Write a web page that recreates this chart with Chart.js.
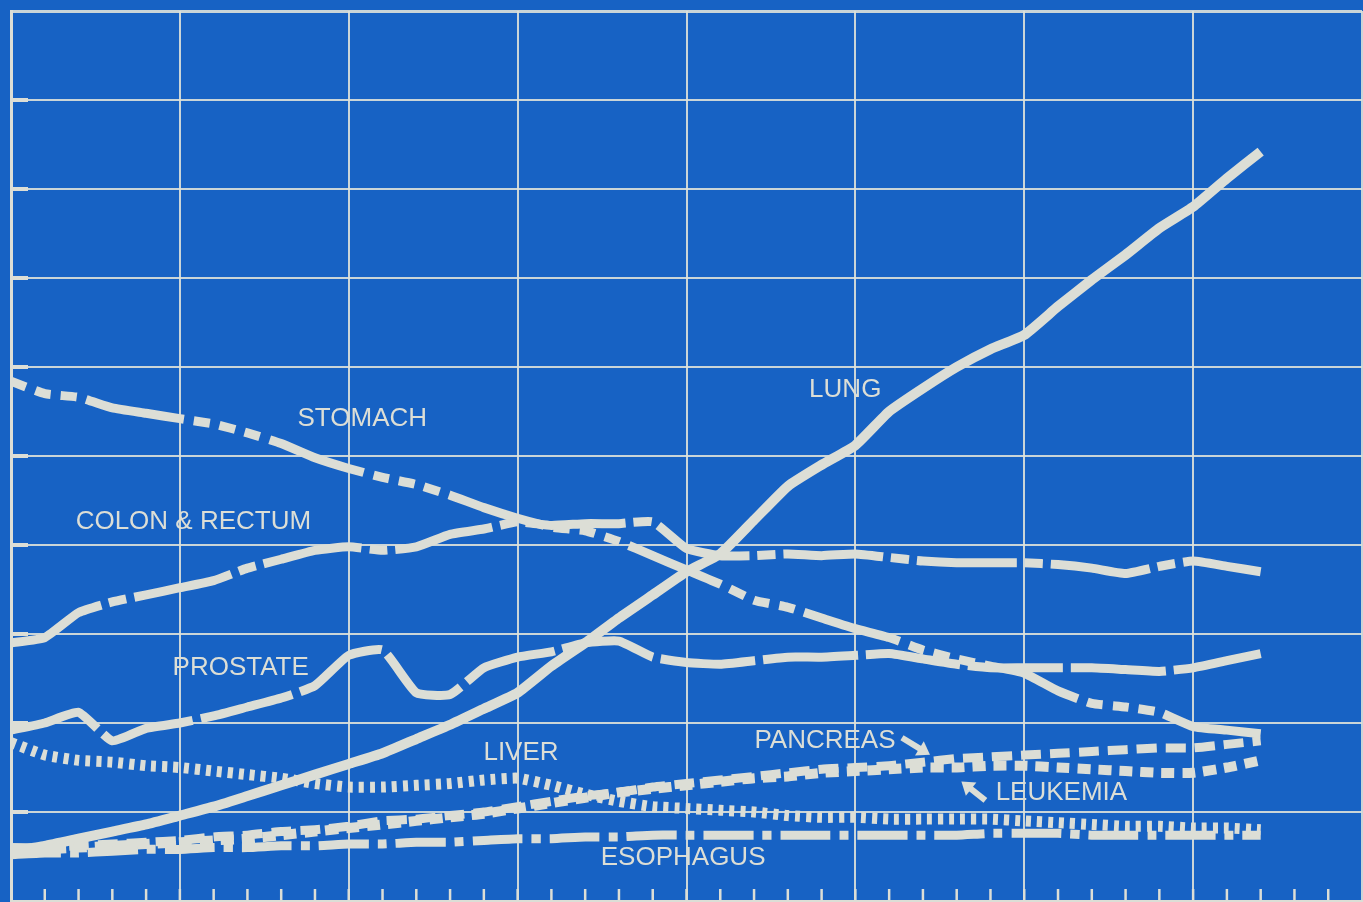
<!DOCTYPE html>
<html lang="en">
<head>
    <meta charset="UTF-8">
    <title>Cancer Death Rates by Site - Males</title>
    <script src="https://cdnjs.cloudflare.com/ajax/libs/Chart.js/4.4.0/chart.umd.min.js"></script>
    <style>
        html, body { margin: 0; padding: 0; background: #1762c4; }
        .chart-box { position: relative; width: 1363px; height: 902px; }
    </style>
</head>
<body>
    <div class="chart-box">
        <canvas id="siteChart"></canvas>
    </div>

    <script>
        // years along the x axis
        const years = [1930, 1931, 1932, 1933, 1934, 1935, 1936, 1937, 1938, 1939,
                       1940, 1941, 1942, 1943, 1944, 1945, 1946, 1947, 1948, 1949,
                       1950, 1951, 1952, 1953, 1954, 1955, 1956, 1957, 1958, 1959,
                       1960, 1961, 1962, 1963, 1964, 1965, 1966, 1967];

        // rates per 100,000
        const lung = [2.8, 3.1, 3.5, 3.9, 4.3, 4.8, 5.3, 5.9, 6.5, 7.1,
                      7.7, 8.3, 9.1, 9.9, 10.8, 11.7, 13.2, 14.5, 15.9, 17.2,
                      18.5, 19.5, 21.4, 23.3, 24.5, 25.6, 27.5, 28.8, 30.0, 31.0,
                      31.8, 33.4, 34.9, 36.3, 37.8, 39.0, 40.6, 42.1];
        const stomach = [29.2, 28.5, 28.3, 27.7, 27.4, 27.1, 26.8, 26.3, 25.7, 24.9,
                         24.3, 23.8, 23.4, 22.8, 22.1, 21.5, 21.0, 20.8, 20.2, 19.4,
                         18.6, 17.8, 16.9, 16.5, 15.9, 15.3, 14.8, 14.1, 13.6, 13.2,
                         12.8, 11.8, 11.1, 10.9, 10.6, 9.8, 9.6, 9.4];
        const colon = [14.5, 14.8, 16.2, 16.8, 17.2, 17.6, 18.0, 18.7, 19.2, 19.7,
                       19.9, 19.7, 19.9, 20.6, 20.9, 21.3, 21.1, 21.2, 21.2, 21.3,
                       19.8, 19.4, 19.4, 19.5, 19.4, 19.5, 19.3, 19.1, 19.0, 19.0,
                       19.0, 18.9, 18.7, 18.4, 18.8, 19.1, 18.8, 18.5];
        const prostate = [9.6, 10.0, 10.6, 9.0, 9.7, 10.0, 10.4, 10.9, 11.4, 12.1,
                          13.8, 14.1, 11.7, 11.6, 13.1, 13.7, 14.0, 14.5, 14.6, 13.7,
                          13.4, 13.3, 13.5, 13.7, 13.7, 13.8, 13.9, 13.6, 13.3, 13.1,
                          13.1, 13.1, 13.1, 13.0, 12.9, 13.1, 13.5, 13.9];
        const liver = [8.9, 8.2, 7.9, 7.8, 7.6, 7.5, 7.3, 7.1, 6.9, 6.6,
                       6.4, 6.4, 6.5, 6.6, 6.8, 6.9, 6.5, 6.0, 5.6, 5.3,
                       5.2, 5.1, 5.0, 4.8, 4.7, 4.7, 4.6, 4.6, 4.6, 4.6,
                       4.5, 4.4, 4.3, 4.2, 4.2, 4.1, 4.1, 4.0];
        const pancreas = [3.0, 3.0, 3.1, 3.2, 3.3, 3.4, 3.6, 3.7, 3.9, 4.0,
                          4.2, 4.5, 4.6, 4.8, 5.0, 5.3, 5.6, 5.9, 6.1, 6.4,
                          6.6, 6.8, 7.0, 7.2, 7.4, 7.5, 7.6, 7.8, 8.0, 8.1,
                          8.2, 8.3, 8.4, 8.5, 8.6, 8.6, 8.8, 9.0];
        const leukemia = [2.8, 2.9, 3.0, 3.1, 3.2, 3.3, 3.4, 3.5, 3.7, 3.9,
                          4.1, 4.3, 4.5, 4.7, 4.9, 5.2, 5.5, 5.8, 6.1, 6.3,
                          6.5, 6.7, 6.9, 7.0, 7.2, 7.3, 7.4, 7.5, 7.5, 7.6,
                          7.6, 7.5, 7.4, 7.3, 7.2, 7.2, 7.5, 7.9];
        const esophagus = [2.6, 2.7, 2.7, 2.8, 2.9, 2.9, 3.0, 3.0, 3.1, 3.1,
                           3.2, 3.2, 3.3, 3.3, 3.4, 3.5, 3.5, 3.6, 3.6, 3.7,
                           3.7, 3.7, 3.7, 3.7, 3.7, 3.7, 3.7, 3.7, 3.7, 3.8,
                           3.8, 3.8, 3.7, 3.7, 3.7, 3.7, 3.7, 3.7];

        const INK = '#dcded6';
        const GRID = 'rgba(222, 226, 218, 0.9)';
        const BG = '#1762c4';

        function toPoints(values) {
            return values.map((v, i) => ({ x: years[i], y: v }));
        }

        function series(label, values, width, dash) {
            return {
                label: label,
                data: toPoints(values),
                borderColor: INK,
                borderWidth: width,
                borderDash: dash,
                borderCapStyle: 'butt',
                borderJoinStyle: 'round',
                pointRadius: 0,
                tension: 0.15,
                fill: false
            };
        }

        // text labels placed in data units
        const siteLabels = [
            { text: 'STOMACH', x: 1940.4, y: 27.1 },
            { text: 'LUNG', x: 1954.7, y: 28.7 },
            { text: 'COLON & RECTUM', x: 1935.4, y: 21.3 },
            { text: 'PROSTATE', x: 1936.8, y: 13.1 },
            { text: 'LIVER', x: 1945.1, y: 8.3 },
            { text: 'PANCREAS', x: 1954.1, y: 9.0 },
            { text: 'LEUKEMIA', x: 1961.1, y: 6.1 },
            { text: 'ESOPHAGUS', x: 1949.9, y: 2.4 }
        ];

        function arrow(ctx, x1, y1, x2, y2) {
            const ang = Math.atan2(y2 - y1, x2 - x1);
            const head = 15;
            ctx.save();
            ctx.strokeStyle = INK;
            ctx.fillStyle = INK;
            ctx.lineWidth = 6;
            ctx.beginPath();
            ctx.moveTo(x1, y1);
            ctx.lineTo(x2 - Math.cos(ang) * head * 0.7, y2 - Math.sin(ang) * head * 0.7);
            ctx.stroke();
            ctx.beginPath();
            ctx.moveTo(x2, y2);
            ctx.lineTo(x2 - Math.cos(ang - 0.6) * head, y2 - Math.sin(ang - 0.6) * head);
            ctx.lineTo(x2 - Math.cos(ang + 0.6) * head, y2 - Math.sin(ang + 0.6) * head);
            ctx.closePath();
            ctx.fill();
            ctx.restore();
        }

        const blueprint = {
            id: 'blueprint',
            beforeDraw(chart) {
                const ctx = chart.ctx;
                ctx.save();
                ctx.fillStyle = BG;
                ctx.fillRect(0, 0, chart.width, chart.height);
                ctx.restore();
            },
            beforeDatasetsDraw(chart) {
                const ctx = chart.ctx;
                const xs = chart.scales.x;
                const ys = chart.scales.y;
                const area = chart.chartArea;
                ctx.save();
                ctx.strokeStyle = INK;
                // small year ticks standing on the bottom axis
                ctx.lineWidth = 2.5;
                for (let yr = 1931; yr < 1970; yr++) {
                    const px = xs.getPixelForValue(yr);
                    ctx.beginPath();
                    ctx.moveTo(px, area.bottom);
                    ctx.lineTo(px, area.bottom - 12);
                    ctx.stroke();
                }
                // short heavy stubs on the left edge
                ctx.lineWidth = 4;
                for (let v = 5; v < 50; v += 5) {
                    const py = ys.getPixelForValue(v);
                    ctx.beginPath();
                    ctx.moveTo(area.left, py);
                    ctx.lineTo(area.left + 17, py);
                    ctx.stroke();
                }
                ctx.restore();
            },
            afterDatasetsDraw(chart) {
                const ctx = chart.ctx;
                const xs = chart.scales.x;
                const ys = chart.scales.y;
                ctx.save();
                ctx.fillStyle = INK;
                ctx.font = '26px "Liberation Sans", Arial, sans-serif';
                ctx.textAlign = 'center';
                ctx.textBaseline = 'middle';
                siteLabels.forEach(l => {
                    ctx.fillText(l.text, xs.getPixelForValue(l.x), ys.getPixelForValue(l.y));
                });
                ctx.restore();
                // arrows next to PANCREAS and LEUKEMIA
                const pan = siteLabels[5], leu = siteLabels[6];
                const px = xs.getPixelForValue(pan.x), py = ys.getPixelForValue(pan.y);
                arrow(ctx, px + 77, py - 3, px + 105, py + 14);
                const lx = xs.getPixelForValue(leu.x), ly = ys.getPixelForValue(leu.y);
                arrow(ctx, lx - 76, ly + 8, lx - 100, ly - 11);
            }
        };

        const gridWidth = ctx => (ctx.tick && (ctx.tick.value === 50 || ctx.tick.value === 1970)) ? 3 : 2;

        new Chart(document.getElementById('siteChart'), {
            type: 'line',
            data: {
                datasets: [
                    series('Esophagus', esophagus, 9, [50, 9, 9, 9]),
                    series('Leukemia', leukemia, 10, [13, 8]),
                    series('Pancreas', pancreas, 9, [20, 9]),
                    series('Liver', liver, 11, [5, 6]),
                    series('Prostate', prostate, 9, [95, 8]),
                    series('Colon & Rectum', colon, 9, [100, 8, 18, 8]),
                    series('Stomach', stomach, 9, [16, 10, 16, 10, 16, 10, 100, 10]),
                    series('Lung', lung, 10, [])
                ]
            },
            options: {
                responsive: true,
                maintainAspectRatio: false,
                animation: false,
                layout: { padding: { left: 11, top: 11, right: 1, bottom: 1 } },
                plugins: {
                    legend: { display: false },
                    tooltip: { enabled: false }
                },
                scales: {
                    x: {
                        type: 'linear',
                        min: 1930,
                        max: 1970,
                        ticks: { display: false, stepSize: 5 },
                        grid: { color: GRID, lineWidth: gridWidth, drawTicks: false },
                        border: { display: true, color: INK, width: 3 }
                    },
                    y: {
                        min: 0,
                        max: 50,
                        ticks: { display: false, stepSize: 5 },
                        grid: { color: GRID, lineWidth: gridWidth, drawTicks: false },
                        border: { display: true, color: INK, width: 3 }
                    }
                }
            },
            plugins: [blueprint]
        });
    </script>
</body>
</html>
